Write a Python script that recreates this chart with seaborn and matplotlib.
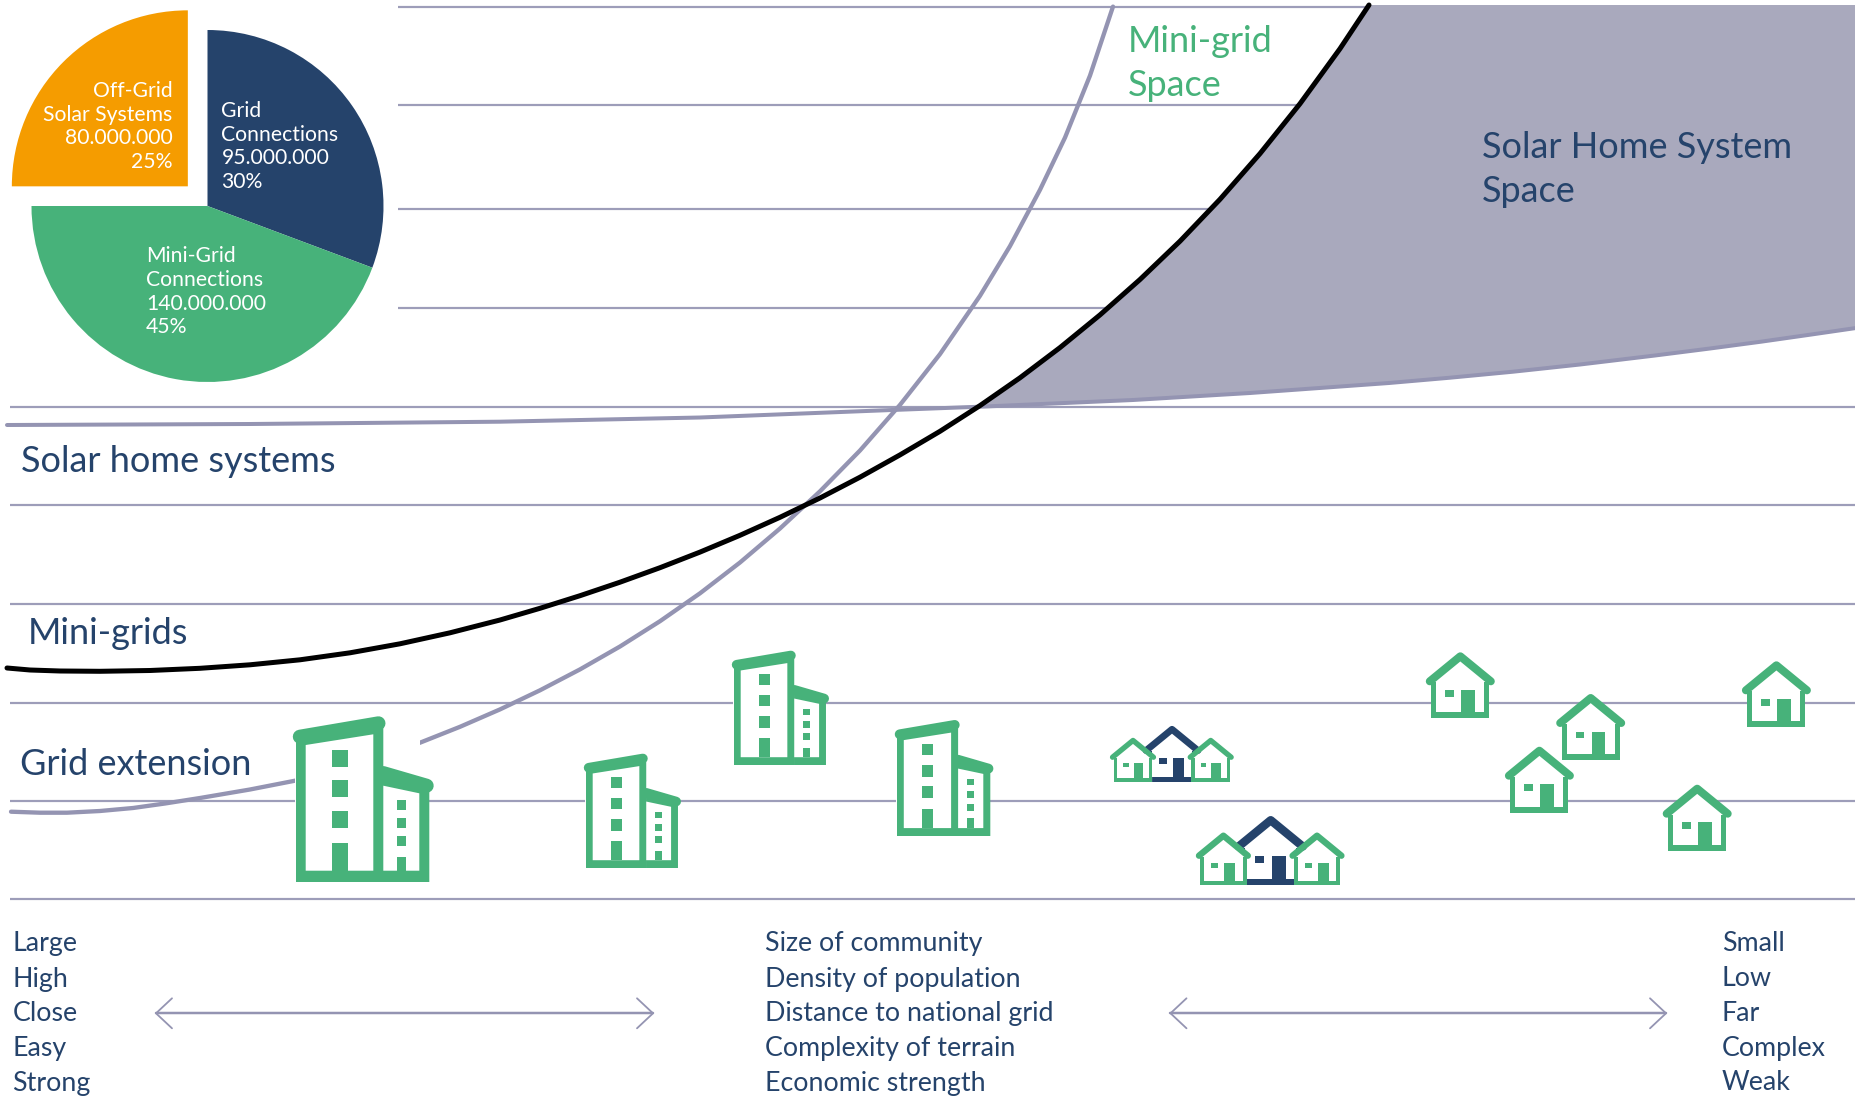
import matplotlib
matplotlib.use("Agg")
import matplotlib.pyplot as plt
import numpy as np
import seaborn as sns
from matplotlib.patches import Polygon, Rectangle

NAVY = "#25436b"
GREEN = "#47b27a"
ORANGE = "#f59c00"
GREY_LINE = "#9d9db9"
CURVE = "#9494b2"
FILL = "#a9a9bd"

# pie
pie_names = [["Grid", "Connections"], ["Mini-Grid", "Connections"], ["Off-Grid", "Solar Systems"]]
pie_counts = ["95.000.000", "140.000.000", "80.000.000"]
pie_labels = [30, 45, 25]
pie_slices = [30.7, 44.3, 25]

# rules of the background
upper_rules = [6.7, 105, 209, 308]
lower_rules = [406.7, 505.3, 603.7, 702.5, 800.7, 899]

# the three cost curves
grid_x = [11, 40, 67, 100, 133, 165, 200, 250, 295, 360, 420, 460, 500, 540, 580, 620, 660, 700, 740, 780,
          820, 860, 900, 940, 980, 1010, 1040, 1065, 1090, 1113]
grid_y = [811.7, 812.7, 812.7, 811, 808, 803.5, 798, 789.5, 780.7, 762.5, 742.7, 726.8, 709.4, 690.3, 669.4,
          646.5, 621.2, 593.3, 562.5, 528.5, 491.3, 450.5, 404.9, 354.1, 295.8, 246.1, 189.8, 137.6, 75.6, 6.6]

mini_x = [7, 30, 60, 100, 150, 200, 250, 300, 350, 400, 450, 500, 540, 580, 620, 660, 700, 740, 780, 820, 860,
          900, 940, 980, 1020, 1060, 1100, 1140, 1180, 1220, 1260, 1300, 1340, 1369]
mini_y = [668, 670, 671, 671.3, 670.5, 668.3, 664.8, 659.8, 652.8, 643.8, 632.8, 620, 608.3, 595.7, 582.2,
          567.7, 552.1, 535.3, 517.3, 498, 477.2, 454.9, 431.3, 405.6, 377.8, 347.6, 314.9, 279.5, 241.2,
          199.3, 153.6, 103.7, 48.7, 5]

solar_x = [7, 250, 500, 700, 892, 985, 1133, 1250, 1389, 1450, 1513, 1580, 1655, 1710, 1761, 1810, 1856]
solar_y = [425, 424, 421.7, 417.5, 410, 406.5, 400, 393, 383, 377.7, 371.7, 364.5, 355.5, 348.5, 341.7, 334.7, 328]

# bottom legend
left_words = ["Large", "High", "Close", "Easy", "Strong"]
mid_words = ["Size of community", "Density of population", "Distance to national grid",
             "Complexity of terrain", "Economic strength"]
right_words = ["Small", "Low", "Far", "Complex", "Weak"]
word_baselines = [951, 986.5, 1021, 1056, 1090.5]

W, H = 1856, 1096


def px(n):
    return n * 0.72


def draw_building(ax, x0, y0, s):
    def shape(pts, color):
        pts = np.array(pts) * s + [x0, y0]
        ax.add_patch(Polygon(pts, closed=True, fc=color, ec="none", zorder=6))

    def box(x1, x2, y1, y2, color=GREEN):
        shape([(x1, y1), (x2, y1), (x2, y2), (x1, y2)], color)

    # white block hides the rules and the curve behind the icon
    ax.add_patch(Rectangle((x0 - s, y0 - 165 * s), 125 * s, 165 * s, fc="white", ec="none", zorder=5))
    shape([(0, 0), (87.3, 0), (87.3, -158), (0, -144)], GREEN)
    shape([(87, 0), (133.3, 0), (133.3, -96), (87, -109)], GREEN)
    shape([(9.7, -11.3), (77.3, -11.3), (77.3, -147.7), (9.7, -137)], "white")
    shape([(87.3, -11.3), (123.3, -11.3), (123.3, -88.7), (87.3, -96.3)], "white")
    for top, bottom in [(-132, -115.3), (-101.7, -85), (-71.3, -54.3)]:
        box(35.7, 51.7, top, bottom)
    box(35.7, 51.7, -38.7, -11)
    for top, bottom in [(-81.7, -72.3), (-64, -54), (-46.3, -36)]:
        box(100.7, 110, top, bottom)
    box(100.7, 110, -25.3, -11)
    for xs, ys in [((3.8, 82.5), (-145.3, -158.7)), ((87, 130.7), (-109, -96.3))]:
        ax.plot(np.array(xs) * s + x0, np.array(ys) * s + y0, color=GREEN, lw=px(14 * s),
                solid_capstyle="round", zorder=7)


def draw_house(ax, cx, y0, s, color=GREEN):
    def shape(pts, c, z=6):
        pts = np.array(pts) * s + [cx, y0]
        ax.add_patch(Polygon(pts, closed=True, fc=c, ec="none", zorder=z))

    shape([(-28.5, 0), (28.5, 0), (28.5, -40), (0, -66), (-28.5, -40)], "white")
    shape([(-29, 0), (29, 0), (29, -36), (24, -36), (24, -6), (-24, -6), (-24, -36), (-29, -36)], color)
    shape([(-15, -28.3), (-6.3, -28.3), (-6.3, -21.7), (-15, -21.7)], color)
    shape([(1, -28.3), (14.7, -28.3), (14.7, -5), (1, -5)], color)
    ax.plot(np.array([-30.5, 0, 30.5]) * s + cx, np.array([-37, -62, -37]) * s + y0, color=color,
            lw=px(8 * s), solid_capstyle="round", solid_joinstyle="round", zorder=7)


def draw_arrow(ax, x1, x2, y):
    ax.plot([x1, x2], [y, y], color=CURVE, lw=px(2.5), zorder=3)
    for tip, back in [(x1, x1 + 16), (x2, x2 - 16)]:
        ax.plot([back, tip, back], [y - 15, y, y + 15], color=CURVE, lw=px(1.8), zorder=3)


sns.set_theme(style="white")
plt.rcParams["font.family"] = ["Lato", "DejaVu Sans"]

fig = plt.figure(figsize=(W / 100, H / 100), dpi=100, facecolor="white")
ax = fig.add_axes([0, 0, 1, 1])

ax.hlines(upper_rules, 398, W, color=GREY_LINE, lw=px(2.2), zorder=1)
ax.hlines(lower_rules, 10, W, color=GREY_LINE, lw=px(2.2), zorder=1)

# shaded solar home system space: between the black curve and the solar curve
black_part = [(x, y) for x, y in zip(mini_x, mini_y) if x >= 980]
solar_part = [(x, y) for x, y in zip(solar_x, solar_y) if x >= 985]
outline = black_part + [(W, 5)] + solar_part[::-1]
ax.fill([p[0] for p in outline], [p[1] for p in outline], color=FILL, lw=0, zorder=2)

sns.lineplot(x=solar_x, y=solar_y, sort=False, estimator=None, color=CURVE, linewidth=px(4), ax=ax, zorder=3)
sns.lineplot(x=grid_x, y=grid_y, sort=False, estimator=None, color=CURVE, linewidth=px(4.3), ax=ax, zorder=3)
sns.lineplot(x=mini_x, y=mini_y, sort=False, estimator=None, color="black", linewidth=px(5), ax=ax, zorder=4)

# buildings
draw_building(ax, 296, 882, 1.0)
draw_building(ax, 586, 868, 0.69)
draw_building(ax, 734, 765, 0.69)
draw_building(ax, 897, 836, 0.70)

# single houses
draw_house(ax, 1460.3, 718.3, 1.0)
draw_house(ax, 1590.7, 760, 1.0)
draw_house(ax, 1539.4, 812.7, 1.0)
draw_house(ax, 1697.2, 850.7, 1.0)
draw_house(ax, 1776.4, 727.3, 1.0)

# clusters
draw_house(ax, 1172, 782, 0.85, NAVY)
draw_house(ax, 1133, 782, 0.67)
draw_house(ax, 1210.7, 782, 0.67)
draw_house(ax, 1270.7, 885.3, 1.05, NAVY)
draw_house(ax, 1223.4, 885.3, 0.8)
draw_house(ax, 1317, 885.3, 0.8)

draw_arrow(ax, 156, 653, 1013.3)
draw_arrow(ax, 1170.5, 1666, 1013.3)

big = dict(fontsize=26, va="baseline", zorder=9)
ax.text(21, 472, "Solar home systems", color=NAVY, **big)
ax.text(28, 644.5, "Mini-grids", color=NAVY, **big)
ax.text(20, 775, "Grid extension", color=NAVY, **big)
ax.text(1128, 51.5, "Mini-grid", color=GREEN, **big)
ax.text(1128, 95.5, "Space", color=GREEN, **big)
ax.text(1482, 158.5, "Solar Home System", color=NAVY, **big)
ax.text(1482, 201.5, "Space", color=NAVY, **big)

for words, x in [(left_words, 12.5), (mid_words, 765), (right_words, 1722)]:
    for word, y in zip(words, word_baselines):
        ax.text(x, y, word, color=NAVY, fontsize=19.3, va="baseline", zorder=9)

ax.set_xlim(0, W)
ax.set_ylim(H, 0)
ax.axis("off")

# pie sits in its own axes on top, centred on the common corner of the slices
radius = 176
half = 1.18 * radius
ax_pie = fig.add_axes([(207.5 - half) / W, 1 - (206 + half) / H, 2 * half / W, 2 * half / H], zorder=2)
ax_pie.pie(pie_slices, colors=[NAVY, GREEN, ORANGE], startangle=90, counterclock=False,
           explode=[0, 0, 0.158], wedgeprops=dict(linewidth=0))
ax_pie.set_xlim(-1.18, 1.18)
ax_pie.set_ylim(-1.18, 1.18)

pie_text = [(221.5, "left", [116.7, 141, 164.3, 188]),
            (146, "left", [261.7, 286, 310, 332.7]),
            (172.7, "right", [97.3, 121, 144.3, 168])]
for names, count, share, (x, ha, ys) in zip(pie_names, pie_counts, pie_labels, pie_text):
    for line, y in zip(names + [count, f"{share}%"], ys):
        ax_pie.text(x, y, line, color="white", fontsize=15.2, ha=ha, va="baseline", transform=ax.transData)

fig.savefig("out.png", dpi=100, facecolor="white")
